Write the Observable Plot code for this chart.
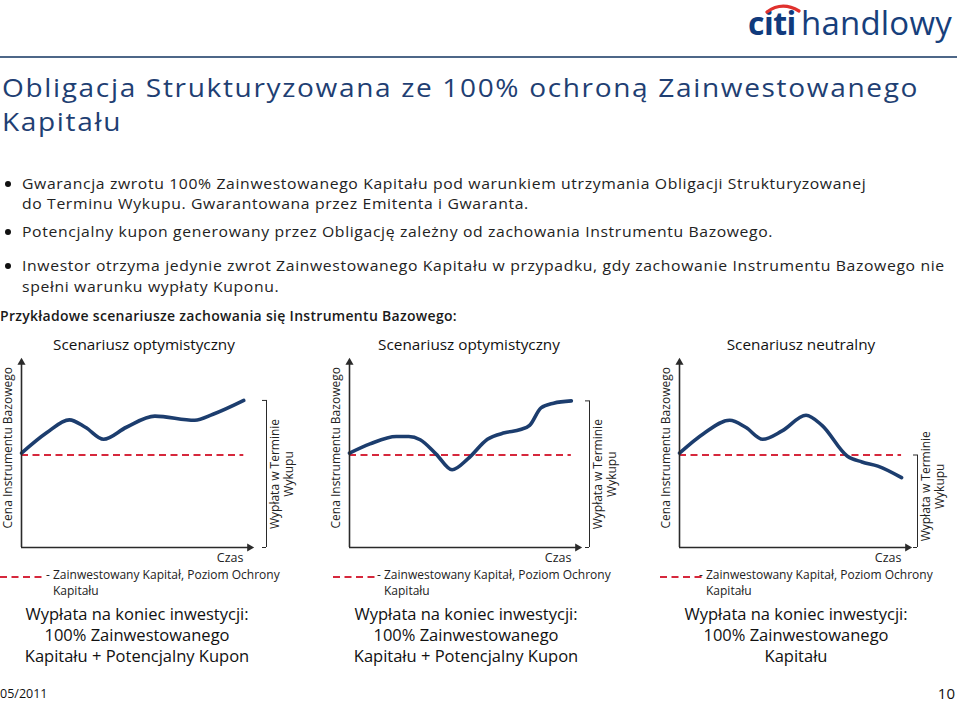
<!DOCTYPE html>
<html><head><meta charset="utf-8">
<script src="https://cdn.jsdelivr.net/npm/d3@7"></script>
<script src="https://cdn.jsdelivr.net/npm/@observablehq/plot@0.6"></script>
<style>
body{margin:0;background:#fff;font-family:"Open Sans",sans-serif;color:#222;}
#page{position:relative;width:960px;height:703px;overflow:hidden;}
</style></head><body><div id="page"></div>
<script>
// ---------- texts ----------
const logoBold = "citi";
const logoLight = "handlowy";
const pageTitle = ["Obligacja Strukturyzowana ze 100% ochroną Zainwestowanego", "Kapitału"];
const bulletLines = [
  ["Gwarancja zwrotu 100% Zainwestowanego Kapitału pod warunkiem utrzymania Obligacji Strukturyzowanej", "do Terminu Wykupu. Gwarantowana przez Emitenta i Gwaranta."],
  ["Potencjalny kupon generowany przez Obligację zależny od zachowania Instrumentu Bazowego."],
  ["Inwestor otrzyma jedynie zwrot Zainwestowanego Kapitału w przypadku, gdy zachowanie Instrumentu Bazowego nie", "spełni warunku wypłaty Kuponu."]
];
const sectionHeading = "Przykładowe scenariusze zachowania się Instrumentu Bazowego:";
const scenarioTitles = ["Scenariusz optymistyczny", "Scenariusz optymistyczny", "Scenariusz neutralny"];
const yAxisLabel = "Cena Instrumentu Bazowego";
const xAxisLabel = "Czas";
const maturityLabel = "Wypłata w Terminie\nWykupu";
const legendLines = ["- Zainwestowany Kapitał, Poziom Ochrony", "Kapitału"];
const payoffTexts = [
  ["Wypłata na koniec inwestycji:", "100% Zainwestowanego", "Kapitału + Potencjalny Kupon"],
  ["Wypłata na koniec inwestycji:", "100% Zainwestowanego", "Kapitału + Potencjalny Kupon"],
  ["Wypłata na koniec inwestycji:", "100% Zainwestowanego", "Kapitału"]
];
const footerDate = "05/2011";
const pageNumber = "10";

// ---------- data (time 0..100, price index: 100 = invested capital) ----------
const timeDomain = [0, 100];
const priceDomain = [0, 200];
const capitalLevel = 100;

const time1  = [0, 11, 21, 28, 36, 46, 58.5, 76, 84, 97.5];
const price1 = [102, 124, 138, 130, 117, 130, 142, 137.5, 144, 159];

const time2  = [0, 9, 20.5, 26, 31, 38, 45, 52, 60.5, 68, 75, 79, 84, 89.5, 97.3];
const price2 = [102, 112, 120, 120, 116.5, 101, 84, 96, 117, 124, 127.5, 132, 151, 156, 158.5];

const time3  = [0, 10.5, 22, 29, 36.5, 45, 55.5, 62.5, 73.5, 80, 87, 97.4];
const price3 = [102, 123, 137.5, 130, 117, 126, 143, 132, 99, 92.5, 88, 75.5];

const scenarioTimes = [time1, time2, time3];
const scenarioPrices = [price1, price2, price3];

// ---------- colours ----------
const navy = "#1c3d6e";
const red = "#d6283c";
const axisColor = "#2a2a2a";

// ---------- layout ----------
const page = document.getElementById("page");
function el(tag, css, txt) {
  const e = document.createElement(tag);
  Object.assign(e.style, {position: "absolute", whiteSpace: "nowrap"}, css);
  if (txt !== undefined) e.textContent = txt;
  page.appendChild(e);
  return e;
}

// logo
el("div", {left:"748px", top:"3px", fontSize:"32px", lineHeight:"40px", fontWeight:"700", color:"#103a7c", letterSpacing:"-0.5px"}, logoBold);
el("div", {left:"801px", top:"3px", fontSize:"33px", lineHeight:"40px", fontWeight:"400", color:"#173f7c", letterSpacing:"0.2px"}, logoLight);
const arc = document.createElementNS("http://www.w3.org/2000/svg", "svg");
arc.setAttribute("width", "60"); arc.setAttribute("height", "20");
Object.assign(arc.style, {position:"absolute", left:"760px", top:"1px"});
arc.innerHTML = '<path d="M7,11 Q22,0 39,10" fill="none" stroke="#e0312d" stroke-width="3.2" stroke-linecap="round"/>';
page.appendChild(arc);

// rule
el("div", {left:"0px", top:"56px", width:"957px", height:"2px", background:"#4d6788"});

// title
const titleTops = [70, 104];
pageTitle.forEach((line, j) => {
  el("div", {left:"2px", top: titleTops[j] + "px", fontSize:"25.5px", lineHeight:"34px", letterSpacing:"1.5px", color:"#1f3f73", transform:"scaleX(1.1)", transformOrigin:"0 0"}, line);
});

// bullets
const bulletTops = [[173, 193], [221], [255, 276]];
bulletLines.forEach((lines, i) => {
  lines.forEach((line, j) => {
    el("div", {left:"22px", top: bulletTops[i][j] + "px", fontSize:"15px", lineHeight:"20px", letterSpacing:"0.6px", color:"#222", transform:"scaleX(1.05)", transformOrigin:"0 0"}, line);
  });
  el("div", {left:"5px", top: (bulletTops[i][0] + 8) + "px", width:"6px", height:"6px", borderRadius:"3px", background:"#111"});
});
el("div", {left:"0px", top:"307px", fontSize:"14px", lineHeight:"18px", fontWeight:"600", letterSpacing:"0.3px", color:"#1a1a1a"}, sectionHeading);

// panels
const panelLeft = [0, 328, 658];
const titleCenter = [144, 469, 801];
const bracketDx = [17, 12, 10];
const labelDy = [0, 0, -15];
const legendDashLeft = [0, 333, 660];
const legendTextLeft = [46, 377, 699];
const payoffCenter = [137, 466, 796];

function panel(i) {
  const times = scenarioTimes[i], prices = scenarioPrices[i];
  const data = times.map((t, k) => ({t, v: prices[k]}));
  const lastT = times[times.length - 1];
  const payoff = Math.max(prices[prices.length - 1], capitalLevel);
  const tEnd = timeDomain[1], tStart = timeDomain[0];
  const vTop = priceDomain[1], vBottom = priceDomain[0];
  return Plot.plot({
    width: 300, height: 220,
    marginLeft: 21, marginRight: 51, marginTop: 10, marginBottom: 25,
    x: {domain: timeDomain, axis: null},
    y: {domain: priceDomain, axis: null},
    style: {fontFamily: "Open Sans", fontSize: "12px", color: "#222", background: "transparent", overflow: "visible"},
    marks: [
      Plot.ruleY([capitalLevel], {x1: tStart, x2: lastT, stroke: red, strokeWidth: 2, strokeDasharray: "7,4.5"}),
      Plot.line(data, {x: "t", y: "v", curve: "monotone-x", stroke: navy, strokeWidth: 3.6, strokeLinecap: "round", strokeLinejoin: "round"}),
      Plot.ruleX([tStart], {y1: vBottom, y2: vTop, stroke: axisColor, strokeWidth: 1.6}),
      Plot.ruleY([vBottom], {x1: tStart, x2: tEnd, stroke: axisColor, strokeWidth: 1.6}),
      Plot.dot([{t: tStart, v: vTop}], {x: "t", y: "v", symbol: "triangle", r: 3, fill: axisColor, stroke: null}),
      Plot.dot([{t: tEnd, v: vBottom}], {x: "t", y: "v", symbol: "triangle", r: 3, fill: axisColor, stroke: null, rotate: 90}),
      Plot.ruleX([tEnd], {y1: vBottom, y2: payoff, dx: bracketDx[i], stroke: axisColor, strokeWidth: 1}),
      Plot.ruleY([vBottom, payoff], {x1: tEnd, x2: tEnd, dx: bracketDx[i], insetLeft: -4, stroke: axisColor, strokeWidth: 1}),
      Plot.text([maturityLabel], {x: tEnd, y: payoff / 2, rotate: -90, dx: bracketDx[i] + 15, dy: labelDy[i], fontSize: 12, lineHeight: 1.2, fill: "#222"}),
      Plot.text([yAxisLabel], {frameAnchor: "bottom-left", rotate: -90, textAnchor: "start", dx: -10, dy: -19, fontSize: 12, fill: "#222"}),
      Plot.text([xAxisLabel], {frameAnchor: "bottom-right", textAnchor: "end", dx: -6, dy: 14, fontSize: 12.5, fill: "#222"})
    ]
  });
}

for (let i = 0; i < 3; i++) {
  el("div", {left:(titleCenter[i] - 150) + "px", width:"300px", textAlign:"center", top:"334px", fontSize:"15.3px", lineHeight:"20px", color:"#111"}, scenarioTitles[i]);
  const svg = panel(i);
  Object.assign(svg.style, {position: "absolute", left: panelLeft[i] + "px", top: "352px"});
  page.appendChild(svg);
  // legend
  const dash = document.createElementNS("http://www.w3.org/2000/svg", "svg");
  dash.setAttribute("width", "42"); dash.setAttribute("height", "4");
  Object.assign(dash.style, {position: "absolute", left: legendDashLeft[i] + "px", top: "575px"});
  dash.innerHTML = `<line x1="0" y1="2" x2="42" y2="2" stroke="${red}" stroke-width="2" stroke-dasharray="7,4.5"/>`;
  page.appendChild(dash);
  legendLines.forEach((line, j) => {
    el("div", {left: (legendTextLeft[i] + (j ? 7 : 0)) + "px", top: (567 + 16 * j) + "px", fontSize:"12px", lineHeight:"16px", color:"#222"}, line);
  });
  payoffTexts[i].forEach((line, j) => {
    el("div", {left:(payoffCenter[i] - 150) + "px", width:"300px", textAlign:"center", top: (603 + 21 * j) + "px", fontSize:"16.5px", lineHeight:"21px", color:"#111"}, line);
  });
}

// footer
el("div", {left:"0px", top:"686px", fontSize:"12.5px", lineHeight:"16px", color:"#111"}, footerDate);
el("div", {right:"5px", top:"683px", fontSize:"15px", lineHeight:"20px", color:"#111"}, pageNumber);
</script>
</body></html>
